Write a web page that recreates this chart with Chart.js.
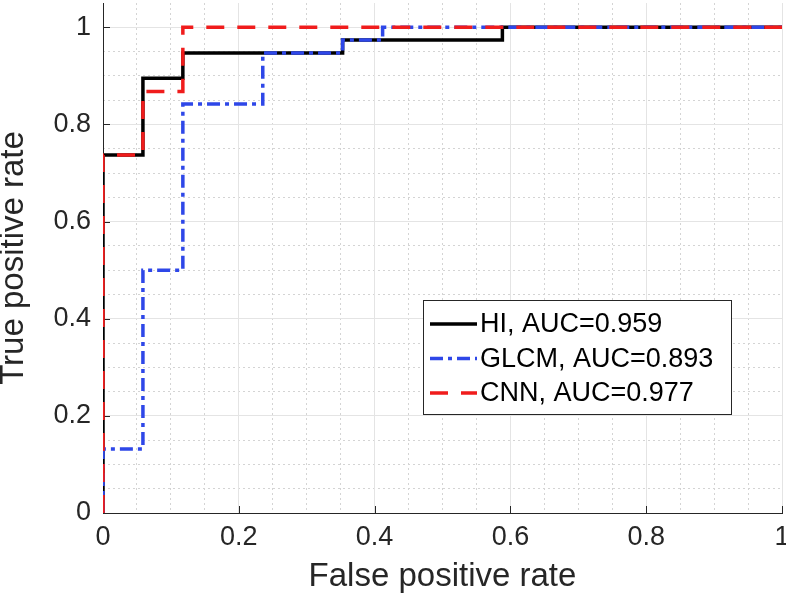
<!DOCTYPE html>
<html>
<head>
<meta charset="utf-8">
<title>ROC curves</title>
<script src="https://cdn.jsdelivr.net/npm/chart.js@4.4.0/dist/chart.umd.min.js"></script>
<style>
  html, body { margin: 0; padding: 0; background: #fff; }
  #wrap { width: 786px; height: 597px; }
</style>
</head>
<body>
<div id="wrap"><canvas id="rocChart" width="786" height="597"></canvas></div>
<script>
// ROC DATA (corner points)
const hiFpr = [0, 0, 0.0588, 0.1176, 0.3529, 0.5882, 1];
const hiTpr = [0, 0.737, 0.895, 0.947, 0.974, 1, 1];

const glcmFpr = [0, 0, 0.0588, 0.1176, 0.2353, 0.3529, 0.4118, 1];
const glcmTpr = [0, 0.132, 0.5, 0.842, 0.947, 0.974, 1, 1];

const cnnFpr = [0, 0, 0.0588, 0.1176, 1];
const cnnTpr = [0, 0.737, 0.868, 1, 1];

const seriesLabels = ['HI, AUC=0.959', 'GLCM, AUC=0.893', 'CNN, AUC=0.977'];
const majorTicks = [0, 0.2, 0.4, 0.6, 0.8, 1];

const axisColor = '#262626';
const fontFamily = '"Liberation Sans", Arial, Helvetica, sans-serif';

const toPoints = (xs, ys) => xs.map((x, i) => ({ x: x, y: ys[i] }));
const isMajor = v => majorTicks.some(t => Math.abs(t - v) < 1e-6);

// small inward tick marks like the original figure
const innerTicks = {
  id: 'innerTicks',
  beforeDatasetsDraw(chart) {
    const { ctx, chartArea, scales } = chart;
    ctx.save();
    ctx.strokeStyle = axisColor;
    ctx.lineWidth = 1;
    ctx.beginPath();
    majorTicks.forEach(v => {
      const px = Math.round(scales.x.getPixelForValue(v)) + 0.5;
      ctx.moveTo(px, chartArea.bottom);
      ctx.lineTo(px, chartArea.bottom - 7);
      const py = Math.round(scales.y.getPixelForValue(v)) + 0.5;
      ctx.moveTo(chartArea.left, py);
      ctx.lineTo(chartArea.left + 7, py);
    });
    ctx.stroke();
    ctx.restore();
  }
};

// LEGEND BOX inside the plot
const legendBox = {
  id: 'legendBox',
  afterDraw(chart) {
    const ctx = chart.ctx;
    const x = 423, y = 300, w = 308, h = 114;
    ctx.save();
    ctx.fillStyle = '#fff';
    ctx.fillRect(x, y, w, h);
    ctx.strokeStyle = axisColor;
    ctx.lineWidth = 1;
    ctx.strokeRect(x + 0.5, y + 0.5, w, h);
    ctx.font = '27px ' + fontFamily;
    ctx.textBaseline = 'middle';
    chart.data.datasets.forEach((ds, i) => {
      const cy = y + 24 + i * 34.5;
      ctx.strokeStyle = ds.borderColor;
      ctx.lineWidth = ds.borderWidth;
      ctx.setLineDash(ds.borderDash || []);
      ctx.beginPath();
      ctx.moveTo(x + 7, cy);
      ctx.lineTo(x + 54, cy);
      ctx.stroke();
      ctx.fillStyle = '#000';
      ctx.fillText(ds.label, x + 57, cy + 1);
    });
    ctx.restore();
  }
};

const majorScale = (title, extra) => Object.assign({
  type: 'linear',
  min: 0,
  afterBuildTicks: s => { s.ticks = majorTicks.map(v => ({ value: v })); },
  ticks: {
    autoSkip: false,
    maxRotation: 0,
    color: axisColor,
    font: { family: fontFamily, size: 27 },
    callback: v => String(v)
  },
  grid: { color: '#e4e4e4', lineWidth: 1, drawTicks: false },
  border: { color: axisColor, width: 1 },
  title: {
    display: true,
    text: title,
    color: axisColor,
    font: { family: fontFamily, size: 33, lineHeight: 0.85 }
  }
}, extra);

const minorScale = (pos, max) => ({
  type: 'linear',
  position: pos,
  min: 0,
  max: max,
  ticks: { display: false, stepSize: 0.05 },
  grid: {
    drawTicks: false,
    lineWidth: 1,
    color: c => (isMajor(c.tick.value) || c.tick.value > 1.001) ? 'rgba(0,0,0,0)' : '#d4d4d4'
  },
  border: { display: false, dash: [2, 3] },
  afterFit: s => {
    if (pos === 'bottom') s.height = 0; else s.width = 0;
    s.paddingLeft = s.paddingRight = s.paddingTop = s.paddingBottom = 0;
  }
});

const xScale = majorScale('False positive rate', {
  position: 'bottom',
  max: 1,
  afterFit: s => {
    s.height = 84;
    s.paddingLeft = 0;
    s.paddingRight = 0;
  }
});
xScale.ticks.padding = 8;
xScale.title.padding = { top: 0, bottom: 6 };

const yScale = majorScale('True positive rate', {
  position: 'left',
  max: 1.05,
  afterFit: s => {
    s.width = 103;
    s.paddingTop = 0;
    s.paddingBottom = 0;
  }
});
yScale.ticks.padding = 12;
yScale.title.padding = { top: 0, bottom: 0 };

const ctx = document.getElementById('rocChart');
const chart = new Chart(ctx, {
  type: 'line',
  data: {
    datasets: [
      {
        label: seriesLabels[0],
        data: toPoints(hiFpr, hiTpr),
        borderColor: '#000000',
        borderWidth: 3.5,
        stepped: 'before',
        pointRadius: 0,
        fill: false,
        order: 2
      },
      {
        label: seriesLabels[1],
        data: toPoints(glcmFpr, glcmTpr),
        borderColor: '#2e47e8',
        borderWidth: 3.5,
        borderDash: [13, 5, 4, 5],
        stepped: 'before',
        pointRadius: 0,
        fill: false,
        order: 1
      },
      {
        label: seriesLabels[2],
        data: toPoints(cnnFpr, cnnTpr),
        borderColor: '#f01c1c',
        borderWidth: 3.5,
        borderDash: [18, 13],
        stepped: 'before',
        pointRadius: 0,
        fill: false,
        order: 0
      }
    ]
  },
  options: {
    responsive: false,
    animation: false,
    devicePixelRatio: 1,
    layout: { padding: { top: 3, right: 4, bottom: 0, left: 0 } },
    plugins: {
      legend: { display: false },
      tooltip: { enabled: false }
    },
    scales: {
      x2: minorScale('bottom', 1),
      y2: minorScale('left', 1.05),
      x: xScale,
      y: yScale
    }
  },
  plugins: [innerTicks, legendBox]
});
</script>
</body>
</html>
